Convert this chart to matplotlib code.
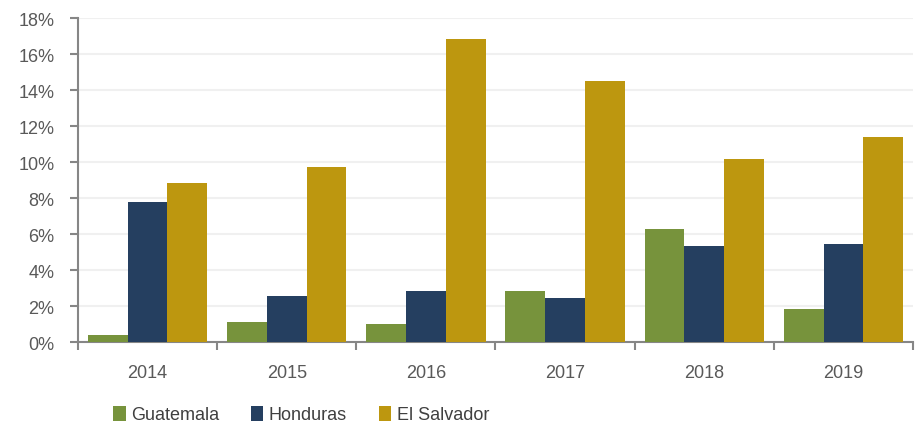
import matplotlib
matplotlib.use("Agg")
import matplotlib.pyplot as plt
import numpy as np

years = ["2014", "2015", "2016", "2017", "2018", "2019"]
guatemala = [0.40, 1.11, 1.01, 2.82, 6.27, 1.83]
honduras = [7.79, 2.53, 2.82, 2.44, 5.35, 5.46]
el_salvador = [8.84, 9.75, 16.81, 14.50, 10.15, 11.37]

series = [("Guatemala", guatemala, "#77933C"),
          ("Honduras", honduras, "#253F60"),
          ("El Salvador", el_salvador, "#BD970F")]

plt.rcParams['font.family'] = ['Liberation Sans', 'DejaVu Sans']

fig = plt.figure(figsize=(9.21, 4.27), dpi=100)
ax = fig.add_axes([0.0847, 0.1967, 0.9066, 0.7588])

x = np.arange(len(years))
w = 1 / 3.5
for i, (name, vals, col) in enumerate(series):
    ax.bar(x + (i - 1) * w, vals, width=w, color=col, label=name, zorder=3)

ax.set_xlim(-0.5, len(years) - 0.5)
ax.set_ylim(0, 18)
ax.set_yticks(range(0, 19, 2))
ax.set_yticklabels([f"{v}%" for v in range(0, 19, 2)])
ax.set_xticks(x)
ax.set_xticklabels(years)
ax.set_xticks(np.arange(-0.5, len(years)), minor=True)
ax.tick_params(axis='x', which='major', length=0, pad=16, labelsize=13, labelcolor="#595959")
ax.tick_params(axis='x', which='minor', length=6, width=1.5, color="#868686")
ax.tick_params(axis='y', length=6, width=1.5, color="#868686", labelsize=13, labelcolor="#595959", pad=11)

ax.grid(axis='y', color="#F0F0F0", linewidth=1.5, zorder=0)
for s in ["top", "right"]:
    ax.spines[s].set_visible(False)
for s in ["left", "bottom"]:
    ax.spines[s].set_color("#868686")
    ax.spines[s].set_linewidth(1.5)

leg = fig.legend(loc="lower left", bbox_to_anchor=(0.105, -0.032), ncol=3, frameon=False,
                 fontsize=13, handlelength=0.7, handleheight=0.9, handletextpad=0.3,
                 columnspacing=1.75, labelcolor="#404040")

fig.savefig("out.png", dpi=100)
